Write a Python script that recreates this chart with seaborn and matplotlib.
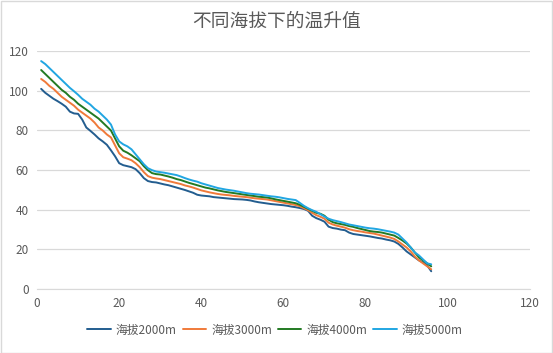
import numpy as np
import pandas as pd
import matplotlib
matplotlib.use('Agg')
import matplotlib.pyplot as plt
import seaborn as sns

# values, x = 1..96
x_vals = list(range(1, 97))

alt_2000 = [101.0, 99.0, 97.5, 96.0, 94.8, 93.5, 92.0, 89.5, 88.6, 88.4,
            85.5, 81.5, 79.8, 78.0, 76.0, 74.5, 72.8, 70.0, 67.0, 63.5,
            62.5, 62.0, 61.5, 60.5, 58.5, 56.0, 54.5, 54.0, 53.8, 53.3,
            52.8, 52.4, 51.8, 51.2, 50.6, 50.0, 49.3, 48.6, 47.6, 47.2,
            47.0, 46.8, 46.4, 46.2, 46.0, 45.8, 45.6, 45.4, 45.3, 45.2,
            45.0, 44.7, 44.2, 43.8, 43.5, 43.2, 42.9, 42.7, 42.5, 42.3,
            42.0, 41.6, 41.3, 40.9, 40.4, 39.5, 37.0, 35.8, 35.0, 34.0,
            31.5, 30.8, 30.5, 30.0, 29.7, 28.5, 27.8, 27.5, 27.2, 26.9,
            26.6, 26.2, 25.8, 25.5, 25.0, 24.6, 24.0, 22.8, 21.0, 19.0,
            17.5, 16.0, 14.5, 13.5, 12.0, 9.0]

alt_3000 = [106.0, 104.5, 102.5, 101.0, 99.0, 97.0, 95.5, 94.0, 92.5, 90.5,
            89.0, 87.5, 86.0, 84.0, 81.5, 80.0, 78.0, 76.5, 72.5, 68.5,
            66.5, 65.8, 65.0, 63.5, 61.5, 59.0, 57.0, 56.2, 55.8, 55.5,
            55.0, 54.5, 54.0, 53.5, 53.0, 52.3, 51.8, 51.2, 50.5, 49.8,
            49.3, 48.8, 48.4, 48.0, 47.7, 47.5, 47.3, 47.0, 46.8, 46.6,
            46.4, 46.1, 45.8, 45.6, 45.4, 45.2, 44.8, 44.4, 44.0, 43.6,
            43.2, 42.8, 42.4, 41.8, 40.8, 39.8, 38.5, 37.3, 36.5, 35.5,
            33.5, 32.6, 32.0, 31.5, 31.0, 30.2, 29.7, 29.3, 29.0, 28.6,
            28.3, 28.0, 27.5, 27.0, 26.5, 26.0, 25.3, 24.0, 22.5, 21.0,
            19.0, 16.5, 14.5, 13.0, 11.5, 10.0]

alt_4000 = [110.5, 108.5, 106.5, 104.5, 102.5, 100.5, 99.0, 97.0, 95.5, 93.5,
            92.0, 90.5, 89.0, 87.5, 86.0, 84.0, 82.0, 80.0, 76.0, 72.0,
            69.8, 68.8, 67.5, 66.0, 64.5, 62.0, 60.0, 58.5, 58.0, 57.8,
            57.3, 56.8, 56.2, 55.5, 55.0, 54.3, 53.6, 53.0, 52.4, 51.8,
            51.2, 50.8, 50.3, 49.8, 49.4, 49.0, 48.7, 48.4, 48.1, 47.8,
            47.5, 47.2, 46.9, 46.6, 46.4, 46.2, 45.8, 45.3, 44.9, 44.5,
            44.1, 43.7, 43.3, 42.5, 41.5, 40.5, 39.5, 38.5, 38.0, 37.0,
            35.0, 33.8, 33.2, 32.8, 32.4, 31.8, 31.4, 30.8, 30.3, 29.8,
            29.3, 29.0, 28.8, 28.5, 28.0, 27.5, 27.0, 25.8, 24.5, 23.0,
            21.0, 18.5, 16.0, 14.5, 13.0, 11.5]

alt_5000 = [115.0, 113.5, 111.5, 109.5, 107.5, 105.5, 103.5, 101.5, 99.8, 98.0,
            96.0, 94.5, 93.0, 91.0, 89.5, 87.5, 85.5, 83.0, 78.0, 74.5,
            73.0, 72.0, 70.5, 68.0, 65.5, 63.0, 61.0, 60.0, 59.3, 59.0,
            58.7, 58.3, 57.9, 57.5, 56.8, 56.0, 55.3, 54.7, 54.2, 53.4,
            52.8, 52.2, 51.6, 51.0, 50.6, 50.2, 49.9, 49.6, 49.2, 48.8,
            48.4, 48.1, 47.9, 47.7, 47.4, 47.1, 46.8, 46.6, 46.3, 45.9,
            45.5, 45.2, 44.9, 43.5, 42.0, 40.8, 39.8, 39.0, 37.8, 36.6,
            35.5, 34.8, 34.3, 33.8, 33.2, 32.6, 32.2, 31.8, 31.4, 31.0,
            30.7, 30.5, 30.2, 29.8, 29.4, 29.0, 28.5, 27.5, 25.5, 23.5,
            21.0, 18.5, 17.0, 15.0, 13.0, 12.5]

series_names = ['海拔2000m', '海拔3000m', '海拔4000m', '海拔5000m']
series_colors = ['#235d8f', '#f07a3a', '#237a23', '#21a6e2']
x_ticks = [0, 20, 40, 60, 80, 100, 120]
y_ticks = [0, 20, 40, 60, 80, 100, 120]

df = pd.DataFrame({
    'x': x_vals * 4,
    'y': alt_2000 + alt_3000 + alt_4000 + alt_5000,
    'series': sum([[n] * len(x_vals) for n in series_names], []),
})

sns.set_style('white')
plt.rcParams['font.family'] = ['Noto Sans CJK SC', 'DejaVu Sans']

fig = plt.figure(figsize=(5.53, 3.53), dpi=100)
ax = fig.add_axes([0.067, 0.181, 0.891, 0.674])

sns.lineplot(data=df, x='x', y='y', hue='series', palette=series_colors,
             linewidth=1.4, ax=ax, legend=True)

ax.set_xlim(0, 120)
ax.set_ylim(0, 120)
ax.set_xticks(x_ticks)
ax.set_yticks(y_ticks)
ax.grid(axis='y', color='#d9d9d9', linewidth=0.9)
ax.set_axisbelow(True)
for s in ['top', 'right', 'left']:
    ax.spines[s].set_visible(False)
ax.spines['bottom'].set_color('#d9d9d9')
ax.tick_params(axis='both', length=0, labelsize=8.5, labelcolor='#595959', pad=6)
ax.set_xlabel('')
ax.set_ylabel('')

fig.suptitle('不同海拔下的温升值', x=0.5, y=0.97, fontsize=13.5, color='#595959')

handles, labels = ax.get_legend_handles_labels()
ax.legend(handles, labels, loc='center', bbox_to_anchor=(0.497, 0.065),
          bbox_transform=fig.transFigure, ncol=4, frameon=False, fontsize=8.5,
          labelcolor='#595959', handlelength=2.0, handletextpad=0.4,
          columnspacing=0.5)

# light frame around the whole chart
fig.patches.append(plt.Rectangle((0.001, 0.001), 0.997, 0.997, fill=False,
                                 edgecolor='#d9d9d9', linewidth=1,
                                 transform=fig.transFigure, figure=fig))

fig.savefig('out.png', dpi=100)
